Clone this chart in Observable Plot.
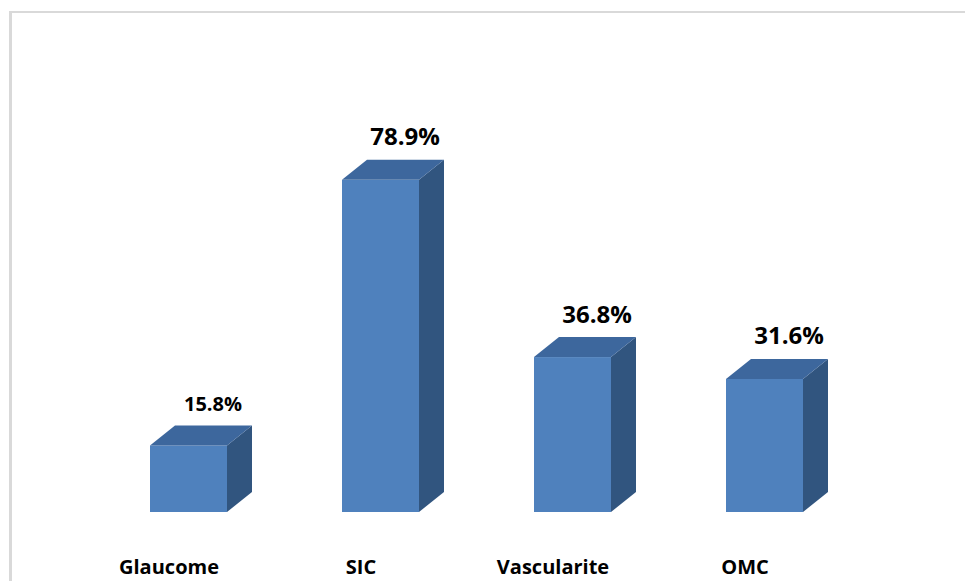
<!DOCTYPE html>
<html>
<head>
<meta charset="utf-8">
<script src="https://cdn.jsdelivr.net/npm/d3@7"></script>
<script src="https://cdn.jsdelivr.net/npm/@observablehq/plot@0.6"></script>
<style>
  html, body { margin: 0; padding: 0; background: #fff; }
  #chart { position: relative; width: 965px; height: 581px; overflow: hidden; }
  #frame {
    position: absolute; left: 9px; top: 11px; right: -10px; bottom: -10px;
    border-top: 2px solid #d9d9d9; border-left: 3px solid #d9d9d9;
    pointer-events: none;
  }
</style>
</head>
<body>
<div id="chart"><div id="frame"></div></div>
<script>
// Share of cases by ocular complication
const categories = ["Glaucome", "SIC", "Vascularite", "OMC"];
const percents = [15.8, 78.9, 36.8, 31.6];
const valueLabels = ["15.8%", "78.9%", "36.8%", "31.6%"];

const rows = categories.map((category, i) => ({
  category,
  value: percents[i],
  label: valueLabels[i]
}));

// Oblique depth of the 3D columns, in pixels
const DEPTH_X = 25;
const DEPTH_Y = 20;
const FRONT = "#4f81bd";
const TOP = "#3d679d";
const SIDE = "#31557f";

// Front faces are regular bars; top and right faces are drawn from the same scales
function prismFaces(index, scales, values, dimensions, context, next) {
  const front = next(index, scales, values, dimensions, context);
  const g = d3.create("svg:g");
  g.append(() => front);
  const bw = scales.x.bandwidth();
  const base = scales.y(0);
  for (const i of index) {
    const d = rows[i];
    const x0 = scales.x(d.category);
    const x1 = x0 + bw;
    const yt = scales.y(d.value);
    g.append("polygon")
      .attr("fill", SIDE)
      .attr("points", [[x1, yt], [x1 + DEPTH_X, yt - DEPTH_Y], [x1 + DEPTH_X, base - DEPTH_Y], [x1, base]].join(" "));
    g.append("polygon")
      .attr("fill", TOP)
      .attr("points", [[x0, yt], [x0 + DEPTH_X, yt - DEPTH_Y], [x1 + DEPTH_X, yt - DEPTH_Y], [x1, yt]].join(" "));
  }
  return g.node();
}

const plot = Plot.plot({
  width: 965,
  height: 581,
  marginTop: 91,
  marginBottom: 69,
  marginLeft: 34,
  marginRight: 47,
  style: { background: "transparent", fontFamily: "'Open Sans', sans-serif" },
  x: { domain: categories, padding: 0.6, axis: null },
  y: { domain: [0, 100], axis: null },
  marks: [
    Plot.barY(rows, { x: "category", y: "value", fill: FRONT, render: prismFaces }),
    Plot.text(rows, {
      x: "category", y: "value", text: "label",
      dx: 24, dy: -35, lineAnchor: "bottom",
      fontWeight: "bold", fill: "#000",
      fontSize: d => (d.value < 20 ? 20 : 24)
    }),
    Plot.text(rows, {
      x: "category", y: 0, text: "category",
      dx: -20, dy: 61, lineAnchor: "bottom",
      fontWeight: "bold", fill: "#000", fontSize: 20
    })
  ]
});

document.getElementById("chart").prepend(plot);
</script>
</body>
</html>
